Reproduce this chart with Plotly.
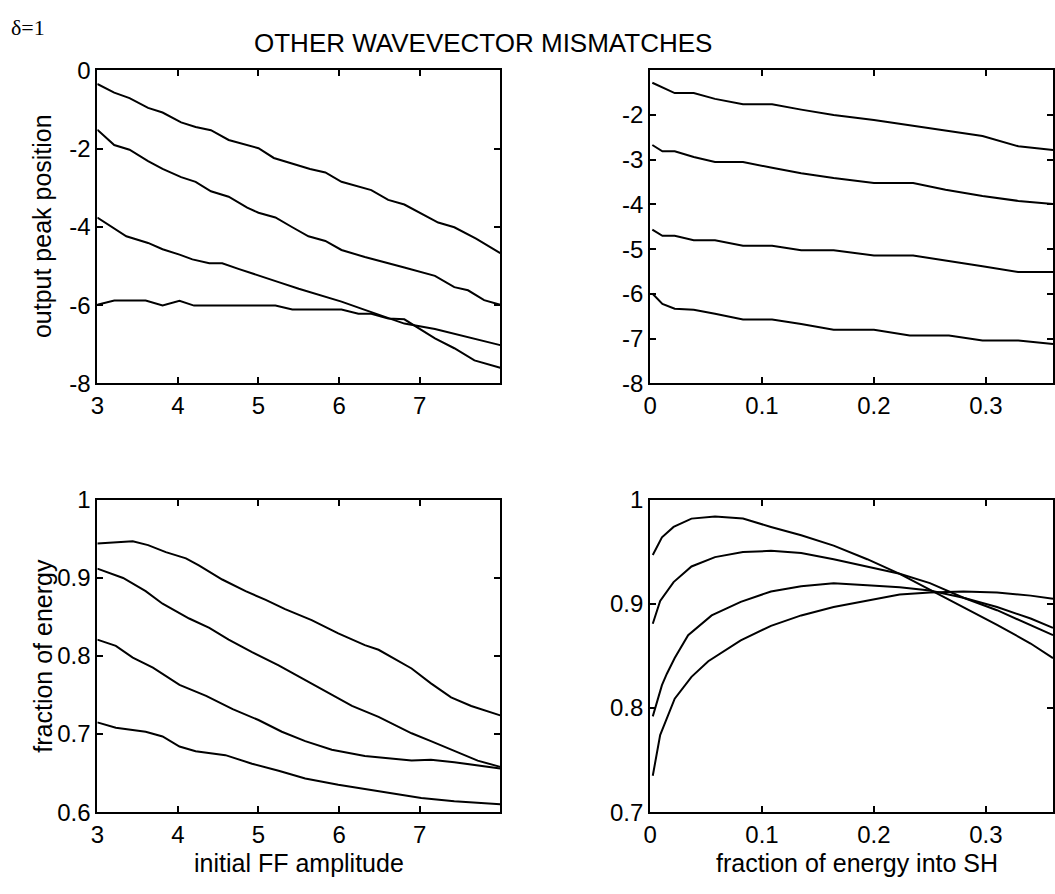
import plotly.graph_objects as go

# ---- top-left: output peak position vs initial FF amplitude ----
tl_x1 = [3.0, 3.21, 3.40, 3.63, 3.81, 4.04, 4.22, 4.41, 4.63, 5.0, 5.19, 5.46, 5.64, 5.83, 6.03, 6.40, 6.61, 6.81, 7.23, 7.43, 7.70, 8.0]
tl_y1 = [-0.35, -0.57, -0.71, -0.96, -1.08, -1.33, -1.45, -1.53, -1.78, -1.99, -2.24, -2.40, -2.52, -2.61, -2.85, -3.06, -3.31, -3.43, -3.89, -4.01, -4.30, -4.67]
tl_x2 = [3.0, 3.21, 3.40, 3.63, 3.81, 4.04, 4.22, 4.41, 4.63, 4.86, 5.0, 5.21, 5.42, 5.62, 5.83, 6.03, 6.32, 6.61, 6.81, 7.19, 7.43, 7.60, 7.80, 8.0]
tl_y2 = [-1.52, -1.91, -2.03, -2.32, -2.52, -2.73, -2.85, -3.09, -3.23, -3.51, -3.64, -3.76, -4.01, -4.24, -4.36, -4.59, -4.77, -4.92, -5.04, -5.25, -5.54, -5.62, -5.87, -5.99]
tl_x3 = [3.0, 3.19, 3.36, 3.63, 3.81, 4.02, 4.18, 4.39, 4.55, 4.76, 5.0, 5.25, 5.5, 5.74, 6.03, 6.32, 6.61, 6.81, 7.19, 7.51, 8.0]
tl_y3 = [-3.76, -4.01, -4.24, -4.41, -4.57, -4.71, -4.83, -4.93, -4.93, -5.08, -5.25, -5.41, -5.58, -5.73, -5.91, -6.12, -6.32, -6.47, -6.61, -6.77, -7.02]
tl_x4 = [3.0, 3.21, 3.60, 3.81, 4.02, 4.20, 5.21, 5.42, 6.03, 6.24, 6.40, 6.61, 6.81, 7.0, 7.19, 7.43, 7.68, 8.0]
tl_y4 = [-5.99, -5.88, -5.88, -6.01, -5.89, -6.01, -6.01, -6.11, -6.11, -6.22, -6.22, -6.34, -6.36, -6.60, -6.85, -7.10, -7.41, -7.60]

# ---- top-right: output peak position vs fraction of energy into SH ----
tr_x1 = [0.002, 0.022, 0.039, 0.058, 0.083, 0.109, 0.135, 0.164, 0.2, 0.235, 0.264, 0.297, 0.329, 0.36]
tr_y1 = [-1.28, -1.51, -1.51, -1.64, -1.76, -1.76, -1.88, -2.0, -2.11, -2.24, -2.36, -2.47, -2.70, -2.78]
tr_x2 = [0.002, 0.011, 0.022, 0.039, 0.058, 0.083, 0.109, 0.135, 0.164, 0.2, 0.235, 0.264, 0.297, 0.329, 0.36]
tr_y2 = [-2.67, -2.81, -2.81, -2.94, -3.05, -3.05, -3.18, -3.30, -3.41, -3.52, -3.52, -3.67, -3.81, -3.92, -3.99]
tr_x3 = [0.002, 0.011, 0.022, 0.039, 0.058, 0.083, 0.109, 0.135, 0.164, 0.2, 0.235, 0.264, 0.297, 0.329, 0.36]
tr_y3 = [-4.56, -4.70, -4.70, -4.80, -4.80, -4.92, -4.92, -5.02, -5.02, -5.14, -5.14, -5.26, -5.38, -5.51, -5.51]
tr_x4 = [0.002, 0.011, 0.022, 0.039, 0.058, 0.083, 0.109, 0.135, 0.164, 0.2, 0.232, 0.267, 0.297, 0.329, 0.36]
tr_y4 = [-5.99, -6.22, -6.33, -6.35, -6.44, -6.57, -6.57, -6.67, -6.80, -6.80, -6.93, -6.93, -7.04, -7.04, -7.12]

# ---- bottom-left: fraction of energy vs initial FF amplitude ----
bl_x1 = [3.0, 3.44, 3.63, 3.85, 4.10, 4.26, 4.55, 4.84, 5.09, 5.33, 5.66, 5.99, 6.32, 6.49, 6.90, 7.14, 7.39, 7.64, 8.0]
bl_y1 = [0.944, 0.947, 0.942, 0.933, 0.925, 0.916, 0.898, 0.883, 0.872, 0.860, 0.846, 0.829, 0.814, 0.808, 0.784, 0.765, 0.747, 0.736, 0.724]
bl_x2 = [3.0, 3.32, 3.60, 3.81, 4.14, 4.39, 4.63, 4.92, 5.25, 5.58, 5.87, 6.16, 6.49, 6.90, 7.14, 7.43, 7.72, 8.0]
bl_y2 = [0.912, 0.900, 0.883, 0.867, 0.848, 0.836, 0.821, 0.805, 0.788, 0.769, 0.753, 0.736, 0.722, 0.701, 0.691, 0.678, 0.666, 0.658]
bl_x3 = [3.0, 3.23, 3.44, 3.69, 4.02, 4.35, 4.68, 5.0, 5.29, 5.58, 5.91, 6.32, 6.90, 7.14, 7.43, 8.0]
bl_y3 = [0.821, 0.813, 0.798, 0.785, 0.763, 0.749, 0.732, 0.718, 0.703, 0.691, 0.680, 0.672, 0.666, 0.667, 0.664, 0.656]
bl_x4 = [3.0, 3.23, 3.60, 3.81, 4.02, 4.22, 4.59, 4.92, 5.25, 5.58, 5.99, 6.49, 7.02, 7.43, 8.0]
bl_y4 = [0.715, 0.708, 0.703, 0.697, 0.684, 0.678, 0.673, 0.662, 0.653, 0.643, 0.635, 0.627, 0.618, 0.614, 0.610]

# ---- bottom-right: fraction of energy vs fraction of energy into SH ----
br_x1 = [0.0024, 0.0106, 0.021, 0.037, 0.058, 0.083, 0.108, 0.135, 0.164, 0.194, 0.223, 0.25, 0.28, 0.31, 0.34, 0.36]
br_y1 = [0.947, 0.964, 0.974, 0.982, 0.984, 0.982, 0.974, 0.966, 0.956, 0.943, 0.929, 0.914, 0.897, 0.880, 0.862, 0.848]
br_x2 = [0.0024, 0.009, 0.021, 0.037, 0.058, 0.083, 0.108, 0.135, 0.164, 0.194, 0.223, 0.25, 0.28, 0.31, 0.34, 0.36]
br_y2 = [0.881, 0.903, 0.921, 0.936, 0.945, 0.950, 0.951, 0.949, 0.943, 0.936, 0.929, 0.920, 0.906, 0.894, 0.880, 0.870]
br_x3 = [0.0024, 0.0106, 0.015, 0.022, 0.034, 0.055, 0.081, 0.108, 0.135, 0.164, 0.194, 0.223, 0.25, 0.28, 0.31, 0.34, 0.36]
br_y3 = [0.792, 0.822, 0.833, 0.848, 0.870, 0.889, 0.902, 0.912, 0.917, 0.920, 0.918, 0.916, 0.913, 0.906, 0.897, 0.886, 0.877]
br_x4 = [0.0024, 0.009, 0.022, 0.037, 0.052, 0.081, 0.108, 0.135, 0.164, 0.194, 0.223, 0.25, 0.28, 0.31, 0.34, 0.36]
br_y4 = [0.735, 0.774, 0.809, 0.830, 0.845, 0.865, 0.879, 0.889, 0.897, 0.903, 0.909, 0.911, 0.912, 0.911, 0.908, 0.905]

# ---- axis ticks (plain hyphen minus signs) ----
amp_ticks = [3, 4, 5, 6, 7]
sh_ticks = [0, 0.1, 0.2, 0.3]
sh_ticktext = ["0", "0.1", "0.2", "0.3"]
pos_ticks_left = [0, -2, -4, -6, -8]
pos_ticks_left_text = ["0", "-2", "-4", "-6", "-8"]
pos_ticks_right = [-2, -3, -4, -5, -6, -7, -8]
pos_ticks_right_text = ["-2", "-3", "-4", "-5", "-6", "-7", "-8"]
frac_ticks_left = [1, 0.9, 0.8, 0.7, 0.6]
frac_ticks_left_text = ["1", "0.9", "0.8", "0.7", "0.6"]
frac_ticks_right = [1, 0.9, 0.8, 0.7]
frac_ticks_right_text = ["1", "0.9", "0.8", "0.7"]

FONT = "Liberation Sans, Arial, sans-serif"
W, H = 1055, 894

fig = go.Figure()

panels = [
    ("x", "y", [(tl_x1, tl_y1), (tl_x2, tl_y2), (tl_x3, tl_y3), (tl_x4, tl_y4)]),
    ("x2", "y2", [(tr_x1, tr_y1), (tr_x2, tr_y2), (tr_x3, tr_y3), (tr_x4, tr_y4)]),
    ("x3", "y3", [(bl_x1, bl_y1), (bl_x2, bl_y2), (bl_x3, bl_y3), (bl_x4, bl_y4)]),
    ("x4", "y4", [(br_x1, br_y1), (br_x2, br_y2), (br_x3, br_y3), (br_x4, br_y4)]),
]
for xa, ya, curves in panels:
    for cx, cy in curves:
        fig.add_trace(go.Scatter(x=cx, y=cy, xaxis=xa, yaxis=ya, mode="lines",
                                 line=dict(color="black", width=2), showlegend=False,
                                 hoverinfo="skip"))

# plot-area rectangles in pixels (left, right) / (top, bottom)
left_col = (91, 497)
right_col = (648, 1054)
top_row = (58, 381)
bot_row = (501, 823)


def xdom(c):
    return [c[0] / W, c[1] / W]


def ydom(r):
    return [1 - r[1] / H, 1 - r[0] / H]


axis_common = dict(showline=True, linecolor="black", linewidth=2, mirror="ticks",
                   ticks="inside", ticklen=6, tickwidth=1.5, tickcolor="black",
                   showgrid=False, zeroline=False,
                   tickfont=dict(family=FONT, size=24, color="black"))

fig.update_layout(
    width=W, height=H,
    margin=dict(l=0, r=0, t=0, b=0),
    paper_bgcolor="white", plot_bgcolor="white",
    xaxis=dict(domain=xdom(left_col), range=[3, 8], tickvals=amp_ticks, anchor="y", **axis_common),
    yaxis=dict(domain=ydom(top_row), range=[-8, 0], tickvals=pos_ticks_left, ticktext=pos_ticks_left_text, anchor="x", **axis_common),
    xaxis2=dict(domain=xdom(right_col), range=[0, 0.36], tickvals=sh_ticks, ticktext=sh_ticktext, anchor="y2", **axis_common),
    yaxis2=dict(domain=ydom(top_row), range=[-8, -1], tickvals=pos_ticks_right, ticktext=pos_ticks_right_text, anchor="x2", **axis_common),
    xaxis3=dict(domain=xdom(left_col), range=[3, 8], tickvals=amp_ticks, anchor="y3", **axis_common),
    yaxis3=dict(domain=ydom(bot_row), range=[0.6, 1], tickvals=frac_ticks_left, ticktext=frac_ticks_left_text, anchor="x3", **axis_common),
    xaxis4=dict(domain=xdom(right_col), range=[0, 0.36], tickvals=sh_ticks, ticktext=sh_ticktext, anchor="y4", **axis_common),
    yaxis4=dict(domain=ydom(bot_row), range=[0.7, 1], tickvals=frac_ticks_right, ticktext=frac_ticks_right_text, anchor="x4", **axis_common),
)

label_font = dict(family=FONT, size=25, color="black")
annotations = [
    dict(text="OTHER WAVEVECTOR MISMATCHES", x=480 / W, y=1 - 30 / H, xref="paper", yref="paper",
         xanchor="center", yanchor="middle", showarrow=False,
         font=dict(family=FONT, size=26, color="black")),
    dict(text="δ=1", x=2 / W, y=1 - 14 / H, xref="paper", yref="paper",
         xanchor="left", yanchor="middle", showarrow=False,
         font=dict(family="Liberation Serif, Times New Roman, serif", size=22, color="black")),
    dict(text="output peak position", x=36 / W, y=1 - 219 / H, xref="paper", yref="paper",
         xanchor="center", yanchor="middle", textangle=-90, showarrow=False, font=label_font),
    dict(text="fraction of energy", x=36 / W, y=1 - 662 / H, xref="paper", yref="paper",
         xanchor="center", yanchor="middle", textangle=-90, showarrow=False, font=label_font),
    dict(text="initial FF amplitude", x=294 / W, y=1 - 875 / H, xref="paper", yref="paper",
         xanchor="center", yanchor="middle", showarrow=False, font=label_font),
    dict(text="fraction of energy into SH", x=856 / W, y=1 - 875 / H, xref="paper", yref="paper",
         xanchor="center", yanchor="middle", showarrow=False, font=label_font),
]
fig.update_layout(annotations=annotations)

fig.write_html("out.html")
